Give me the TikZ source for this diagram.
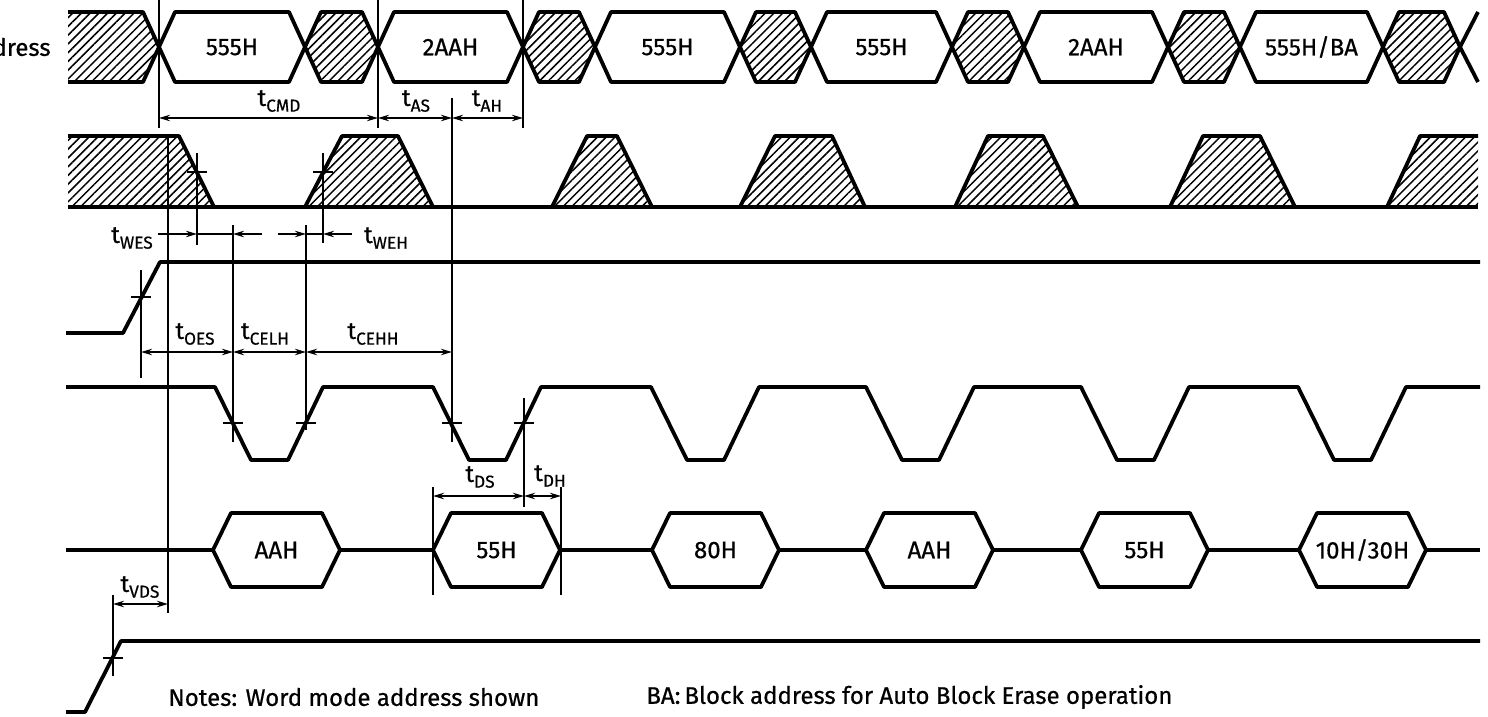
\documentclass[tikz,border=0pt]{standalone}
\usepackage{fontspec}
\setmainfont{Fira Sans}[UprightFeatures={FakeBold=0.6}]
\usetikzlibrary{arrows.meta, patterns.meta}
\newcommand{\tdim}[1]{t\raisebox{-0.45ex}{\scalebox{0.72}{#1}}}

\begin{document}
\begin{tikzpicture}[x=0.5pt, y=-0.5pt,
    sig/.style={line width=1.9pt, line join=round},
    thin/.style={line width=0.9pt},
    dim/.style={thin, {Stealth[length=5.5pt,width=3.2pt]}-{Stealth[length=5.5pt,width=3.2pt]}},
    tip/.style={thin, -{Stealth[length=5.5pt,width=3.2pt]}},
    hatch/.style={pattern={Lines[angle=45,distance=3.1pt,line width=0.75pt]}},
    lbl/.style={font=\fontsize{12}{14}\selectfont, inner sep=0pt}]
  \useasboundingbox (0,0) rectangle (1488,717);
  \clip (0,0) rectangle (1488,717);

  % address
  \node[lbl, anchor=east] (addr) at (51,47) {Address};
  \fill[hatch] (68,12) -- (143,12) -- (159,47) -- (143,82) -- (68,82) -- cycle;
  \draw[sig] (68,12) -- (143,12) -- (159,47) -- (143,82) -- (68,82);
  \foreach \a/\b in {305/378, 523/595, 740/811, 952/1024, 1168/1240, 1383/1460}
    \draw[sig, hatch] (\a,47) -- (\a+16,12) -- (\b-16,12) -- (\b,47) -- (\b-16,82) -- (\a+16,82) -- cycle;
  \foreach \a/\b/\t [count=\i] in {159/305/555H, 378/523/2AAH, 595/740/555H, 811/952/555H, 1024/1168/2AAH, 1240/1383/{555H/BA}} {
    \draw[sig] (\a,47) -- (\a+16,12) -- (\b-16,12) -- (\b,47) -- (\b-16,82) -- (\a+16,82) -- cycle;
    \node[lbl] (adr\i) at ({(\a+\b)/2},47) {\t};
  }
  \draw[sig] (1478,12) -- (1460,47) -- (1478,82);

  % hatched pulses
  \fill[hatch] (68,136) -- (179,136) -- (214,207) -- (68,207) -- cycle;
  \draw[sig] (68,136) -- (179,136) -- (214,207);
  \foreach \a/\b/\c/\d in {305/342/398/433, 552/587/617/652, 740/775/832/865, 955/988/1043/1078, 1170/1203/1260/1295}
    \draw[sig, hatch] (\a,207) -- (\b,136) -- (\c,136) -- (\d,207);
  \fill[hatch] (1387,207) -- (1420,136) -- (1478,136) -- (1478,207) -- cycle;
  \draw[sig] (1387,207) -- (1420,136) -- (1478,136);
  \draw[sig] (68,207) -- (1478,207);

  % levels
  \draw[sig] (66,333) -- (123,333) -- (160,262) -- (1480,262);
  \draw[sig] (66,387) \foreach \f in {215,433,651,866,1081,1298} { -- (\f,387) -- (\f+36,460) -- (\f+73,460) -- (\f+108,387) } -- (1480,387);

  % data
  \draw[sig] (66,550) -- (1480,550);
  \foreach \a/\t [count=\i] in {213/AAH, 433/55H, 652/80H, 866/AAH, 1081/55H, 1299/{10H/30H}} {
    \draw[sig, fill=white] (\a,550) -- (\a+18,513) -- (\a+109,513) -- (\a+127,550) -- (\a+109,587) -- (\a+18,587) -- cycle;
    \node[lbl] (dat\i) at (\a+63.5,550) {\t};
  }

  % supply
  \draw[sig] (66,712) -- (85,712) -- (121,641) -- (1480,641);

  % reference lines and ticks
  \draw[thin] (159,0) -- (159,128);
  \draw[thin] (378,0) -- (378,128);
  \draw[thin] (523,0) -- (523,128);
  \draw[thin] (452,98) -- (452,442);
  \draw[thin] (168,136) -- (168,613);
  \draw[thin] (197,153) -- (197,245);
  \draw[thin] (323,153) -- (323,243);
  \draw[thin] (233,225) -- (233,442);
  \draw[thin] (306,225) -- (306,430);
  \draw[thin] (141,270) -- (141,378);
  \draw[thin] (524,398) -- (524,507);
  \draw[thin] (433,487) -- (433,595);
  \draw[thin] (561,487) -- (561,595);
  \draw[thin] (113,595) -- (113,676);
  \foreach \x/\y in {197/172, 323/172, 141/297, 233/423, 306/423, 452/423, 524/423, 113/658}
    \draw[thin] (\x-10,\y) -- (\x+10,\y);

  % timings
  \draw[dim] (159,118) -- (378,118);
  \draw[dim] (378,118) -- (452,118);
  \draw[dim] (452,118) -- (523,118);
  \node[lbl] (tcmd) at (279,101) {\tdim{CMD}};
  \node[lbl] (tas) at (416,101) {\tdim{AS}};
  \node[lbl] (tah) at (487,101) {\tdim{AH}};

  \draw[tip] (158,234) -- (197,234);
  \draw[thin] (197,234) -- (233,234);
  \draw[tip] (262,234) -- (233,234);
  \draw[tip] (278,234) -- (306,234);
  \draw[thin] (306,234) -- (323,234);
  \draw[tip] (352,234) -- (323,234);
  \node[lbl] (twes) at (132,238) {\tdim{WES}};
  \node[lbl] (tweh) at (386,238) {\tdim{WEH}};

  \draw[dim] (141,352) -- (233,352);
  \draw[dim] (233,352) -- (306,352);
  \draw[dim] (306,352) -- (452,352);
  \node[lbl] (toes) at (195,334) {\tdim{OES}};
  \node[lbl] (tcelh) at (265,334) {\tdim{CELH}};
  \node[lbl] (tcehh) at (373,334) {\tdim{CEHH}};

  \draw[dim] (433,496) -- (524,496);
  \draw[dim] (524,496) -- (561,496);
  \node[lbl] (tds) at (480,477) {\tdim{DS}};
  \node[lbl] (tdh) at (550,476) {\tdim{DH}};

  \draw[dim] (113,604) -- (168,604);
  \node[lbl] (tvds) at (140,587) {\tdim{VDS}};

  % notes
  \node[lbl, anchor=west] (notes) at (168,697) {Notes: Word mode address shown};
  \node[lbl, anchor=west] (ba) at (646,697) {BA:\,Block address for Auto Block Erase operation};
\end{tikzpicture}
\end{document}
